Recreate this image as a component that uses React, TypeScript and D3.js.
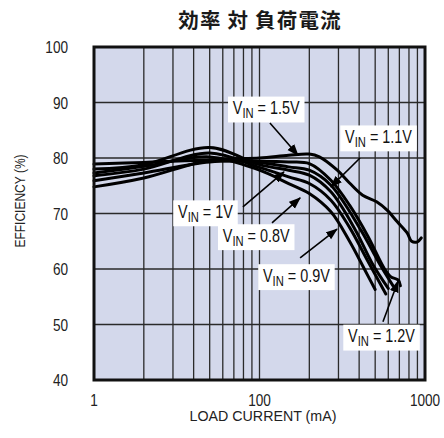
import React, { useEffect, useRef } from 'react';
import * as d3 from 'd3';

const W = 444;
const H = 438;

const xDomain = [10, 1000];
const yDomain = [40, 100];
const xTickValues = [10, 100, 1000];
const xTickLabels = ['1', '100', '1000'];
const yTickValues = [40, 50, 60, 70, 80, 90, 100];
const xGridValues = [20, 30, 40, 50, 60, 70, 80, 90, 100, 200, 300, 400, 500, 600, 700, 800, 900];
const yGridValues = [50, 60, 70, 80, 90];

const title = '効率 対 負荷電流';
const xTitle = 'LOAD CURRENT (mA)';
const yTitle = 'EFFICIENCY (%)';

// series: input voltage
const current08 = [10, 20, 50, 100, 150, 200, 270, 350, 430, 500];
const eff08 = [77.3, 78.5, 80.2, 77.8, 75.4, 73.6, 70.3, 65.0, 60.0, 56.3];

const current09 = [10, 20, 50, 100, 150, 200, 270, 350, 450, 580];
const eff09 = [76.8, 78.0, 80.9, 78.3, 76.6, 75.4, 72.4, 67.5, 61.5, 55.5];

const current10 = [10, 20, 50, 100, 150, 200, 270, 380, 480, 600];
const eff10 = [78.0, 78.8, 81.9, 78.8, 77.8, 76.9, 73.9, 67.0, 61.0, 56.5];

const current11 = [10, 20, 50, 100, 150, 200, 270, 410, 530, 640];
const eff11 = [78.9, 79.2, 79.6, 79.2, 78.4, 77.8, 75.1, 67.0, 61.0, 57.0];

const current12 = [10, 20, 50, 100, 150, 200, 270, 350, 450, 570, 620, 690, 710];
const eff12 = [75.9, 77.3, 79.3, 79.4, 79.3, 79.0, 76.0, 71.5, 66.0, 60.0, 58.6, 58.0, 57.0];

const current15 = [10, 20, 50, 100, 150, 200, 230, 295, 350, 420, 510, 590, 680, 780, 830, 900, 950];
const eff15 = [74.8, 76.4, 79.6, 80.0, 80.5, 80.7, 80.2, 77.8, 75.5, 73.3, 72.1, 70.6, 68.5, 66.5, 65.0, 64.9, 65.6];

const seriesCurrents = [current08, current09, current10, current11, current12, current15];
const seriesEff = [eff08, eff09, eff10, eff11, eff12, eff15];

// annotation labels (data coordinates)
const labelVin = ['1.5V', '1.1V', '1V', '0.8V', '0.9V', '1.2V'];
const labelX = [69, 329, 32.2, 60, 105, 343];
const labelY = [87.9, 82.7, 69.2, 64.9, 57.7, 46.8];
const arrowFromX = [115.6, 405, 79.4, 119, 176, 557];
const arrowFromY = [86.3, 80.0, 71.2, 68.3, 62.0, 50.5];
const arrowToX = [171, 270, 140.6, 176, 294, 687];
const arrowToY = [80.5, 74.8, 77.5, 72.8, 67.2, 57.8];

const SANS = "'Liberation Sans', Arial, sans-serif";

export default function App() {
  const ref = useRef<SVGSVGElement>(null);

  useEffect(() => {
    const svg = d3.select(ref.current);
    svg.selectAll('*').remove();

    const x = d3.scaleLog().domain(xDomain).range([94, 425]);
    const y = d3.scaleLinear().domain(yDomain).range([380, 47]);

    const narrowText = (parent: any, px: number, py: number, size: number, anchor: string, str: string, sq: number, rot = 0) => {
      const g = parent.append('g').attr('transform', `translate(${px},${py}) rotate(${rot}) scale(${sq},1)`);
      return g.append('text')
        .attr('text-anchor', anchor)
        .attr('font-family', SANS)
        .attr('font-size', size)
        .attr('fill', '#222')
        .text(str);
    };

    const defs = svg.append('defs');
    defs.append('marker')
      .attr('id', 'ah')
      .attr('markerUnits', 'userSpaceOnUse')
      .attr('markerWidth', 12)
      .attr('markerHeight', 10)
      .attr('refX', 11)
      .attr('refY', 4.5)
      .attr('orient', 'auto')
      .append('path')
      .attr('d', 'M0,0 L12,4.5 L0,9 Z')
      .attr('fill', '#000');

    svg.append('rect').attr('width', W).attr('height', H).attr('fill', '#fff');

    // title
    svg.append('text')
      .attr('x', 260).attr('y', 28)
      .attr('text-anchor', 'middle')
      .attr('font-family', "'Noto Sans CJK JP', 'Noto Sans CJK SC', sans-serif")
      .attr('font-weight', 'bold')
      .attr('font-size', 20.5)
      .attr('letter-spacing', 1.2)
      .attr('fill', '#1a1a1a')
      .text(title);

    // plot background
    svg.append('rect')
      .attr('x', x(xDomain[0])).attr('y', y(yDomain[1]))
      .attr('width', x(xDomain[1]) - x(xDomain[0]))
      .attr('height', y(yDomain[0]) - y(yDomain[1]))
      .attr('fill', '#d3d8eb');

    const grid = svg.append('g').attr('stroke', '#2a2a2a').attr('stroke-width', 1.3);
    xGridValues.forEach(v => {
      grid.append('line')
        .attr('x1', x(v)).attr('x2', x(v))
        .attr('y1', y(yDomain[0])).attr('y2', y(yDomain[1]));
    });
    yGridValues.forEach(v => {
      grid.append('line')
        .attr('x1', x(xDomain[0])).attr('x2', x(xDomain[1]))
        .attr('y1', y(v)).attr('y2', y(v));
    });

    const boxesG = svg.append('g');
    const curvesG = svg.append('g');
    const arrowsG = svg.append('g');
    const textsG = svg.append('g');
    labelVin.forEach((v, i) => {
      const tr = `translate(${x(labelX[i])},${y(labelY[i])}) scale(0.8,1)`;
      const tg = textsG.append('g').attr('transform', tr);
      const t = tg.append('text')
        .attr('font-family', SANS)
        .attr('font-size', 18)
        .attr('fill', '#111');
      t.append('tspan').text('V');
      t.append('tspan').attr('font-size', 14).attr('dy', 4).text('IN');
      t.append('tspan').attr('dy', -4).text(' = ' + v);
      const bb = (t.node() as SVGTextElement).getBBox();
      boxesG.append('g').attr('transform', tr).append('rect')
        .attr('x', bb.x - 6).attr('y', bb.y - 1)
        .attr('width', bb.width + 12).attr('height', bb.height + 2)
        .attr('fill', '#fff');
    });

    const line = d3.line<[number, number]>()
      .x(d => x(d[0]))
      .y(d => y(d[1]))
      .curve(d3.curveCatmullRom.alpha(0.5));
    seriesCurrents.forEach((cs, i) => {
      const pts: [number, number][] = cs.map((c, j) => [c, seriesEff[i][j]]);
      curvesG.append('path')
        .attr('d', line(pts))
        .attr('fill', 'none')
        .attr('stroke', '#000')
        .attr('stroke-width', 3)
        .attr('stroke-linejoin', 'round')
        .attr('stroke-linecap', 'round');
    });

    labelVin.forEach((_, i) => {
      arrowsG.append('line')
        .attr('x1', x(arrowFromX[i])).attr('y1', y(arrowFromY[i]))
        .attr('x2', x(arrowToX[i])).attr('y2', y(arrowToY[i]))
        .attr('stroke', '#000').attr('stroke-width', 1.6)
        .attr('marker-end', 'url(#ah)');
    });

    svg.append('rect')
      .attr('x', x(xDomain[0])).attr('y', y(yDomain[1]))
      .attr('width', x(xDomain[1]) - x(xDomain[0]))
      .attr('height', y(yDomain[0]) - y(yDomain[1]))
      .attr('fill', 'none').attr('stroke', '#111').attr('stroke-width', 3);

    yTickValues.forEach(v => {
      narrowText(svg, 68, y(v) + 6, 16, 'end', String(v), 0.85);
    });
    xTickValues.forEach((v, i) => {
      narrowText(svg, x(v), 406, 16, 'middle', xTickLabels[i], 0.85);
    });

    narrowText(svg, 263, 421, 15, 'middle', xTitle, 0.95);
    narrowText(svg, 25, 201, 15, 'middle', yTitle, 0.8, -90);
  }, []);

  return (
    <svg
      ref={ref}
      width={W}
      height={H}
      style={{ position: 'absolute', left: 0, top: 0, display: 'block' }}
    />
  );
}
